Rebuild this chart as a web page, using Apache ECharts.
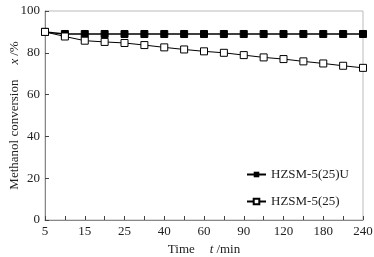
<!DOCTYPE html>
<html>
<head>
<meta charset="utf-8">
<script src="https://cdn.jsdelivr.net/npm/echarts@6/dist/echarts.min.js"></script>
<style>
  html, body { margin: 0; padding: 0; background: #fff; }
  #chart { width: 374px; height: 257px; }
</style>
</head>
<body>
<div id="chart"></div>
<script>
const times = ['5', '10', '15', '20', '25', '30', '40', '50', '60', '75', '90', '105', '120', '150', '180', '210', '240'];
const treated = [90, 89, 89, 89, 89, 89, 89, 89, 89, 89, 89, 89, 89, 89, 89, 89, 89];
const parent = [90, 87.8, 85.8, 85.2, 84.7, 83.7, 82.6, 81.6, 80.7, 80.0, 78.9, 77.8, 77.0, 75.9, 74.9, 73.8, 72.8];
const names = ['HZSM-5(25)U', 'HZSM-5(25)'];

const font = 'Liberation Serif';
const chart = echarts.init(document.getElementById('chart'));

chart.setOption({
  animation: false,
  textStyle: { fontFamily: font, color: '#222' },
  grid: {
    left: 45, right: 11, top: 11, bottom: 37,
    outerBoundsMode: 'none',
    containLabel: false,
    show: true, borderColor: '#bbb', borderWidth: 1
  },
  legend: {
    data: names,
    orient: 'vertical',
    right: 20,
    top: 163,
    itemGap: 14,
    itemWidth: 19,
    itemHeight: 7,
    textStyle: { fontFamily: font, fontSize: 13, color: '#222' }
  },
  xAxis: {
    type: 'category',
    data: times,
    boundaryGap: false,
    name: '{n|Time}     {i|t} {n|/min}',
    nameLocation: 'middle',
    nameGap: 23,
    nameMoveOverlap: false,
    nameTextStyle: {
      rich: {
        n: { fontFamily: font, fontSize: 13, color: '#222' },
        i: { fontFamily: font, fontSize: 13, fontStyle: 'italic', color: '#222' }
      }
    },
    axisLine: { lineStyle: { color: '#888' } },
    axisTick: { inside: true, interval: 0, length: 4, lineStyle: { color: '#444' } },
    axisLabel: { interval: 1, fontSize: 13, color: '#222', margin: 5 }
  },
  yAxis: {
    type: 'value',
    min: 0, max: 100, interval: 20,
    name: '{n|Methanol conversion}     {i|x} {n|/%}',
    nameLocation: 'middle',
    nameRotate: 90,
    nameGap: 24,
    nameMoveOverlap: false,
    nameTextStyle: {
      rich: {
        n: { fontFamily: font, fontSize: 13, color: '#222' },
        i: { fontFamily: font, fontSize: 13, fontStyle: 'italic', color: '#222' }
      }
    },
    splitLine: { show: false },
    axisLine: { show: true, lineStyle: { color: '#888' } },
    axisTick: { show: true, inside: true, length: 4, lineStyle: { color: '#444' } },
    axisLabel: { fontSize: 13, color: '#222', margin: 5 }
  },
  series: [
    {
      name: names[0],
      type: 'line',
      data: treated,
      symbol: 'rect',
      symbolSize: 7,
      lineStyle: { color: '#000', width: 1.5 },
      itemStyle: { color: '#000', borderColor: '#000' }
    },
    {
      name: names[1],
      type: 'line',
      data: parent,
      symbol: 'rect',
      symbolSize: 7,
      lineStyle: { color: '#000', width: 1 },
      itemStyle: { color: '#fff', borderColor: '#000', borderWidth: 1 }
    }
  ]
});
</script>
</body>
</html>
